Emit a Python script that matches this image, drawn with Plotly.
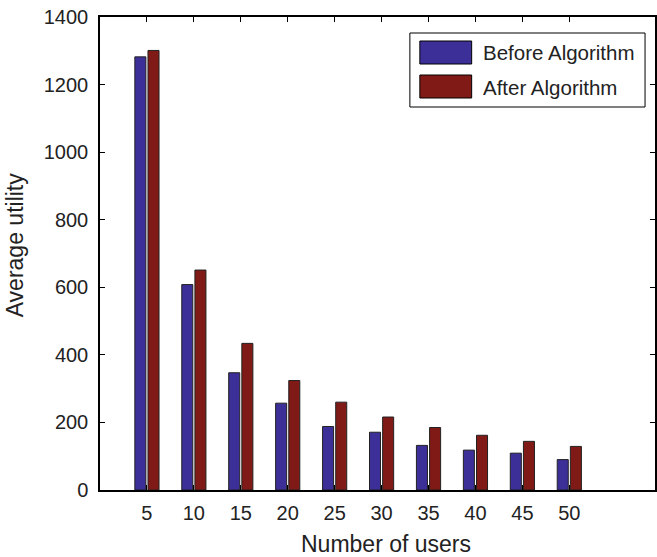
import plotly.graph_objects as go

users = ["5", "10", "15", "20", "25", "30", "35", "40", "45", "50"]
before = [1282, 608, 347, 257, 188, 171, 132, 118, 109, 90]
after = [1301, 651, 434, 324, 260, 216, 185, 162, 144, 129]
series_names = ["Before Algorithm", "After Algorithm"]
colors = ["#3c2f98", "#801a16"]

W, H = 657, 557
L, T, B = 100, 17, 67
PW, PH = W - L, H - T - B

pos = list(range(1, len(users) + 1))

fig = go.Figure()
for vals, name, col in zip([before, after], series_names, colors):
    fig.add_trace(go.Bar(x=pos, y=vals, name=name, marker=dict(color=col, line=dict(color="#222222", width=1)), showlegend=False))

def px(x):
    return (x - L) / PW

def py(y):
    return (H - B - y) / PH

# custom MATLAB-style legend
shapes = [
    dict(type="rect", xref="paper", yref="paper", x0=px(411), x1=px(647), y0=py(107), y1=py(33),
         line=dict(color="black", width=1), fillcolor="white"),
]
ann = []
for i, (name, col) in enumerate(zip(series_names, colors)):
    y0 = 41 + i * 34
    shapes.append(dict(type="rect", xref="paper", yref="paper", x0=px(421), x1=px(473), y0=py(y0 + 23), y1=py(y0),
                       line=dict(color="black", width=1), fillcolor=col))
    ann.append(dict(text=name, xref="paper", yref="paper", x=px(482), y=py(y0 + 12), xanchor="left", yanchor="middle",
                    showarrow=False, font=dict(size=20.5, color="#222222")))

ann.append(dict(text="Number of users", xref="paper", yref="paper", x=px(387), y=py(544), xanchor="center", yanchor="middle",
                showarrow=False, font=dict(size=23, color="#222222")))
ann.append(dict(text="Average utility", xref="paper", yref="paper", x=px(15), y=py(245), xanchor="center", yanchor="middle",
                textangle=-90, showarrow=False, font=dict(size=23, color="#222222")))

fig.update_layout(
    width=W, height=H,
    margin=dict(l=L, r=0, t=T, b=B, pad=0),
    paper_bgcolor="white", plot_bgcolor="white",
    font=dict(family="Liberation Sans, Arial, sans-serif", size=20, color="#222222"),
    barmode="group", bargap=0.44, bargroupgap=0.16,
    shapes=shapes, annotations=ann,
)
fig.update_xaxes(range=[0, PW / 47.1], tickvals=pos, ticktext=users, ticks="inside", ticklen=5, tickcolor="black",
                 showline=True, linecolor="black", linewidth=1.5, mirror="ticks", showgrid=False, zeroline=False,
                 tickfont=dict(size=20), ticklabelstandoff=4)
fig.update_yaxes(range=[0, 1400], tickvals=[0, 200, 400, 600, 800, 1000, 1200, 1400], ticks="inside", ticklen=5,
                 tickcolor="black", showline=True, linecolor="black", linewidth=1.5, mirror="ticks", showgrid=False,
                 zeroline=False, tickfont=dict(size=20), ticklabelstandoff=6)

fig.write_html("out.html")
